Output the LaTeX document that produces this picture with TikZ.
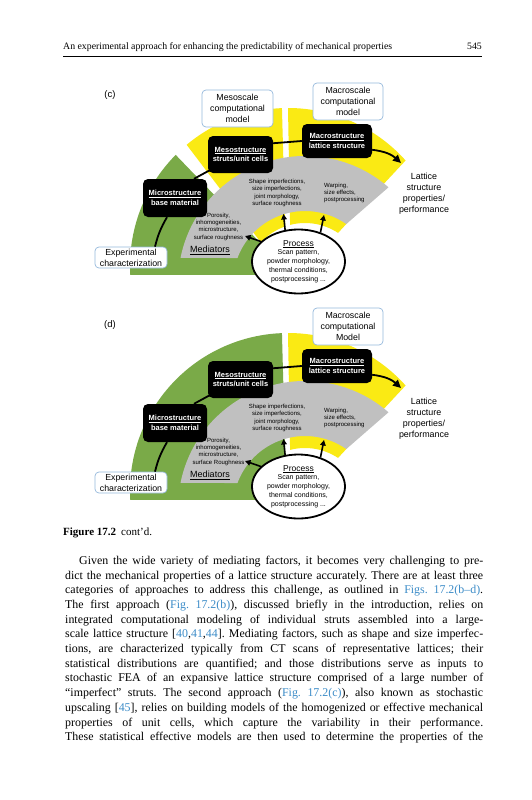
\documentclass[tikz,border=0pt]{standalone}
\usepackage{fontspec}
\setmainfont{Liberation Serif}
\newfontfamily\arialf{Liberation Sans}
\usetikzlibrary{calc,arrows.meta,shapes.geometric}
\definecolor{yel}{RGB}{250,234,20}
\definecolor{grn}{RGB}{122,170,72}
\definecolor{gry}{RGB}{192,192,192}
\definecolor{bbord}{RGB}{150,185,220}
\definecolor{lnk}{RGB}{60,140,200}
\newcommand\fs[2]{\fontsize{#1}{#2}\selectfont}
\newcommand\bodyfont{\fs{11.9}{14}\spaceskip=3.4pt plus 8pt minus 0.3pt\relax}

\newcommand\panel[4]{%
\coordinate (O#2) at (288,{-266-#1});
\coordinate (G#2) at (305,{-283-#1});
\fill[yel] ($(O#2)+(90:158)$) arc[start angle=90,end angle=41.9,radius=158] -- ($(G#2)+(56.6:60)$) arc[start angle=56.6,end angle=104.4,radius=60] -- cycle;
\fill[gry] ($(G#2)+(168.6:127)$) arc[start angle=168.6,end angle=48.9,radius=127] -- ($(G#2)+(55:72)$) arc[start angle=55,end angle=159.7,radius=72] -- cycle;
\node[smalltxt] (por#2) at (218.5,{-226.7-#1}) {Porosity,\\inhomogeneities,\\microstructure,\\surface #4};
\node[font=\arialf\fs{9}{11}, inner sep=0pt] (med#2) at (210,{-250-#1}) {\underline{Mediators}};
\node[smalltxt] (shp#2) at (277,{-193-#1}) {Shape imperfections,\\size imperfections,\\joint morphology,\\surface roughness};
\node[smalltxt, anchor=west, align=left] (wrp#2) at (324,{-193-#1}) {Warping,\\size effects,\\postprocessing};
\node[font=\arialf\fs{8.9}{11}, align=center, inner sep=0pt] (lat#2) at (424,{-193.5-#1}) {Lattice\\structure\\properties/\\performance};
\node[bluebox, minimum width=70pt, minimum height=37pt] (macmod#2) at (348,{-101.5-#1}) {Macroscale\\computational\\#3};
\node[bluebox, minimum width=72pt, minimum height=21pt] (exp#2) at (131,{-257.5-#1}) {Experimental\\characterization};
\node[blk, minimum width=64pt, minimum height=38pt] (micro#2) at (175,{-198-#1}) {\underline{Microstructure}\\base material};
\node[blk, minimum width=65pt, minimum height=37pt] (meso#2) at (240.5,{-154.5-#1}) {\underline{Mesostructure}\\struts/unit cells};
\node[blk, minimum width=70pt, minimum height=34pt] (macro#2) at (337,{-141-#1}) {\underline{Macrostructure}\\lattice structure};
\coordinate (arr#2) at (401,{-163-#1});
\draw[conn] ([xshift=24pt]exp#2.north) to[bend left=8] ([xshift=-8pt]micro#2.south);
\draw[conn] ([xshift=19pt]micro#2.north) -- ([xshift=2pt,yshift=3pt]meso#2.south west);
\draw[conn] (meso#2.19) -- (macro#2.west);
\draw[conn,-{Triangle[length=8pt,width=7.5pt]}] (macro#2.-14) to[bend left=18] (arr#2);
\node[procst] (proc#2) at (298.5,{-261.5-#1}) {{\fs{8.5}{9}\underline{Process}}\\Scan pattern,\\powder morphology,\\thermal conditions,\\postprocessing ...};
\coordinate (ta#2) at (245,{-236-#1});
\coordinate (tb#2) at (283.5,{-214-#1});
\coordinate (tc#2) at (324,{-215-#1});
\draw[parr] (proc#2.152) -- (ta#2);
\draw[parr] (proc#2.113) -- (tb#2);
\draw[parr] (proc#2.53) -- (tc#2);
}

\begin{document}
\frenchspacing
\begin{tikzpicture}[x=1pt,y=1pt,
  blk/.style={fill=black, rounded corners=5pt, text=white, font=\arialf\bfseries\fs{7.5}{9.8}, align=center, inner sep=1pt},
  bluebox/.style={draw=bbord, line width=0.7pt, fill=white, rounded corners=4pt, font=\arialf\fs{8.8}{11}, align=center, inner sep=1pt},
  procst/.style={ellipse, draw=black, line width=1.8pt, fill=white, minimum width=93pt, minimum height=64pt, inner sep=0pt, align=center, font=\arialf\fs{7}{8.8}},
  smalltxt/.style={font=\arialf\fs{6}{7.3}, align=center, inner sep=0pt},
  conn/.style={line width=1.8pt},
  parr/.style={line width=1.6pt, -{Triangle[length=5.5pt,width=5.5pt]}},
  lbl/.style={font=\arialf\fs{9.5}{11}, inner sep=0pt},
  body/.style={anchor=base west, inner sep=0pt, font=\bodyfont}]
\fill[white] (0,0) rectangle (531,-800);
\useasboundingbox (0,0) rectangle (531,-800);

% header
\node[anchor=base west, inner sep=0pt, font=\fs{9.8}{11}] (hdr) at (63,-49) {An experimental approach for enhancing the predictability of mechanical properties};
\node[anchor=base east, inner sep=0pt, font=\fs{9.8}{11}] (pgno) at (482,-49) {545};
\draw[line width=0.6pt] (63,-56) -- (482,-56);

% panel (c)
\coordinate (Oc0) at (288,-266);
\coordinate (Gc0) at (305,-283);
\fill[grn] ($(Oc0)+(183.2:158)$) arc[start angle=183.2,end angle=135.3,radius=158] -- (271,-254) -- (262,-275) -- cycle;
\fill[yel] ($(Oc0)+(129.9:158)$) arc[start angle=129.9,end angle=92.2,radius=158] -- ($(Gc0)+(109.3:60)$) arc[start angle=109.3,end angle=137.4,radius=60] -- cycle;
\panel{0}{c}{model}{roughness}
\node[bluebox, minimum width=71pt, minimum height=37pt] (mesomodc) at (237.5,-108.5) {Mesoscale\\computational\\model};
\node[lbl] (labc) at (110,-95) {(c)};

% panel (d)
\coordinate (Od0) at (288,-491);
\coordinate (Gd0) at (305,-508);
\fill[grn] ($(Od0)+(183.2:158)$) arc[start angle=183.2,end angle=92.2,radius=158] -- ($(Gd0)+(109.3:60)$) -- (285,-480) -- (262,-500) -- cycle;
\panel{225}{d}{Model}{Roughness}
\node[lbl] (labd) at (110,-325) {(d)};

% caption and text
\node[anchor=base west, inner sep=0pt, font=\fs{11}{12}] (cap) at (63,-535) {\textbf{Figure 17.2}\hspace{5pt}cont’d.};
\node[body] (b1) at (65,-564.4) {\makebox[418pt][s]{\hspace*{14pt}Given the wide variety of mediating factors, it becomes very challenging to pre-}};
\node[body] (b2) at (65,-579.1) {\makebox[418pt][s]{dict the mechanical properties of a lattice structure accurately. There are at least three}};
\node[body] (b3) at (65,-593.8) {\makebox[418pt][s]{categories of approaches to address this challenge, as outlined in {\color{lnk}Figs. 17.2(b–d)}.}};
\node[body] (b4) at (65,-608.5) {\makebox[418pt][s]{The first approach ({\color{lnk}Fig. 17.2(b)}), discussed briefly in the introduction, relies on}};
\node[body] (b5) at (65,-623.2) {\makebox[418pt][s]{integrated computational modeling of individual struts assembled into a large-}};
\node[body] (b6) at (65,-637.9) {\makebox[418pt][s]{scale lattice structure [{\color{lnk}40},{\color{lnk}41},{\color{lnk}44}]. Mediating factors, such as shape and size imperfec-}};
\node[body] (b7) at (65,-652.5) {\makebox[418pt][s]{tions, are characterized typically from CT scans of representative lattices; their}};
\node[body] (b8) at (65,-667.2) {\makebox[418pt][s]{statistical distributions are quantified; and those distributions serve as inputs to}};
\node[body] (b9) at (65,-681.9) {\makebox[418pt][s]{stochastic FEA of an expansive lattice structure comprised of a large number of}};
\node[body] (b10) at (65,-696.6) {\makebox[418pt][s]{“imperfect” struts. The second approach ({\color{lnk}Fig. 17.2(c)}), also known as stochastic}};
\node[body] (b11) at (65,-711.3) {\makebox[418pt][s]{upscaling [{\color{lnk}45}], relies on building models of the homogenized or effective mechanical}};
\node[body] (b12) at (65,-726.0) {\makebox[418pt][s]{properties of unit cells, which capture the variability in their performance.}};
\node[body] (b13) at (65,-740.7) {\makebox[418pt][s]{These statistical effective models are then used to determine the properties of the}};
\end{tikzpicture}
\end{document}
